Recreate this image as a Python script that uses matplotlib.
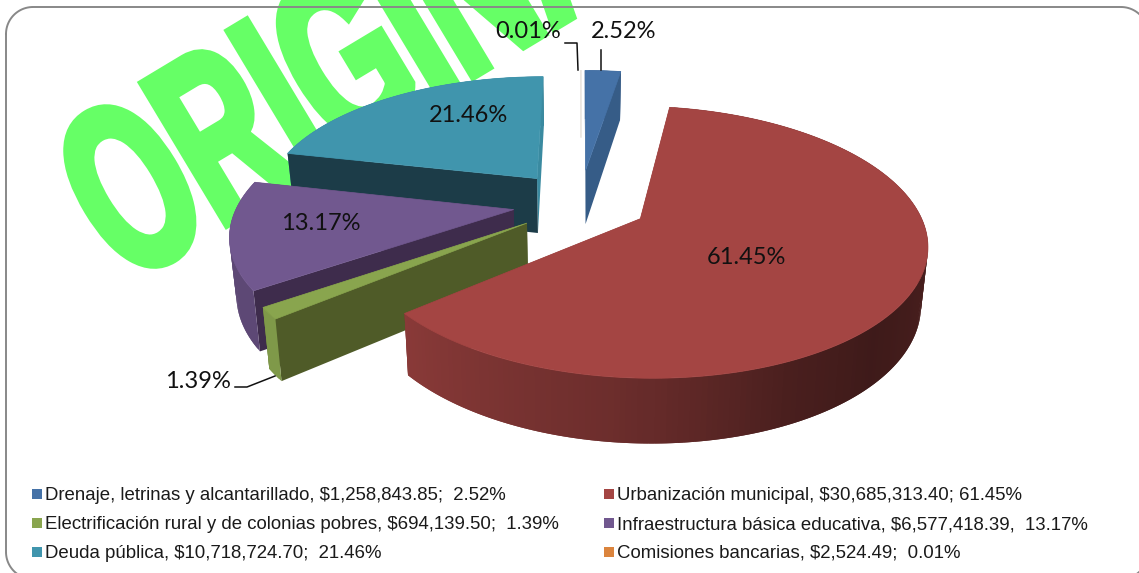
import numpy as np
import matplotlib
matplotlib.use("Agg")
import matplotlib.pyplot as plt
from matplotlib.patches import Polygon, Rectangle
from matplotlib.patheffects import AbstractPathEffect
from matplotlib.transforms import Affine2D

# ---- data ----
names = ["Drenaje, letrinas y alcantarillado", "Urbanización municipal",
         "Electrificación rural y de colonias pobres", "Infraestructura básica educativa",
         "Deuda pública", "Comisiones bancarias"]
amounts = [1258843.85, 30685313.40, 694139.50, 6577418.39, 10718724.70, 2524.49]
percent_labels = ["2.52%", "61.45%", "1.39%", "13.17%", "21.46%", "0.01%"]
legend_labels = ["Drenaje, letrinas y alcantarillado, $1,258,843.85;  2.52%",
                 "Urbanización municipal, $30,685,313.40; 61.45%",
                 "Electrificación rural y de colonias pobres, $694,139.50;  1.39%",
                 "Infraestructura básica educativa, $6,577,418.39,  13.17%",
                 "Deuda pública, $10,718,724.70;  21.46%",
                 "Comisiones bancarias, $2,524.49;  0.01%"]

# ---- style ----
explode_xy = [(0.0175, 0.303), (0.211, -0.09), (-0.191, -0.123),
              (-0.242, -0.02), (-0.165, 0.231), (0.0, 0.30)]
top_colors = ["#4572A7", "#A44543", "#89A54E", "#71588F", "#4095AD", "#DB843D"]
start_wall_colors = ["#365C87", "#7A3230", "#4F5B28", "#3E2C4C", "#1C3C48", "#A8652E"]
end_wall_colors = ["#365C87", "#7A3230", "#4F5B28", "#3E2C4C", "#3A8AA0", "#A8652E"]
outer_shades = [0.8, None, 0.93, 0.82, 0.85, 0.8]
CX, CY, A, B, K, D = 581.0, 207.0, 277.0, 128.0, 0.17, 56.0


def project(X, Y, z):
    f = 1.0 / (1.0 + K * Y)
    s = 1.0 - 0.02 * z
    return CX + A * X * f * s, CY - B * Y * f * s + D * f * z


def shade(hex_color, k):
    rgb = np.array(matplotlib.colors.to_rgb(hex_color)) * k
    return tuple(np.clip(rgb, 0, 1))


class Condense(AbstractPathEffect):
    """Squeeze and tilt the glyphs of a text around its anchor (display units)."""
    def __init__(self, anchor, sx, angle, grow, color):
        super().__init__()
        self.tr = (Affine2D().translate(-anchor[0], -anchor[1]).scale(sx, 1.0)
                   .rotate_deg(angle).translate(anchor[0], anchor[1]))
        self.grow, self.color = grow, color

    def draw_path(self, renderer, gc, tpath, affine, rgbFace=None):
        g = renderer.new_gc()
        g.copy_properties(gc)
        g.set_linewidth(self.grow)
        g.set_foreground(self.color)
        g.set_joinstyle("miter")
        renderer.draw_path(g, tpath, affine + self.tr, rgbFace)
        g.restore()


fig = plt.figure(figsize=(11.39, 5.73), dpi=100)
ax = fig.add_axes([0, 0, 1, 1])
ax.set_xlim(0, 1139)
ax.set_ylim(573, 0)
ax.axis("off")

# watermark
WM = (126, 285)
ax.text(WM[0], WM[1], "ORIGINAL", family="Liberation Sans", weight="bold", fontsize=172,
        color="#66FF66", ha="left", va="baseline", zorder=1,
        path_effects=[Condense((WM[0], 573 - WM[1]), 0.585, 31, 6, "#66FF66")])

# border (rounded frame that runs off the right and bottom edges)
L, T, R_, Bm, r = 6, 7, 1148, 579, 27
arc = np.linspace(0, np.pi / 2, 24)
bx = np.concatenate([L + r - r * np.cos(arc), R_ - r + r * np.sin(arc),
                     R_ - r + r * np.cos(arc), L + r - r * np.sin(arc), [L]])
by = np.concatenate([T + r - r * np.sin(arc), T + r - r * np.cos(arc),
                     Bm - r + r * np.sin(arc), Bm - r + r * np.cos(arc), [T + r]])
ax.plot(bx, by, color="#888888", lw=1.4, zorder=2)

# pie
shares = np.array(amounts) / np.sum(amounts)
edges = np.concatenate([[0], np.cumsum(shares)]) * 360.0


def red_shade(t):
    return np.interp(t, [60, 100, 135, 155, 185, 232], [0.45, 0.45, 0.38, 0.45, 0.66, 0.85])


z = 3
for i in [5, 0, 4, 3, 2, 1]:
    t0, t1 = edges[i], edges[i + 1]
    ox, oy = explode_xy[i]
    n = max(2, int((t1 - t0) / 1.0) + 2)
    th = np.radians(np.linspace(t0, t1, n))
    rx, ry = ox + np.sin(th), oy + np.cos(th)
    if i == 5:
        # the 0.01 % slice is only a pale hairline
        f = 0.303
        p0 = project(ox + f * np.sin(th[0]), oy + f * np.cos(th[0]), 0)
        p1 = project(rx[0], ry[0], 0)
        ax.plot([p0[0], p1[0]], [p0[1], p1[1]], color="#E6E0D8", lw=1.0, zorder=z)
        z += 1
        continue
    faces = []
    for j in range(n - 1):
        j2 = min(j + 2, n - 1)
        q = [project(rx[j], ry[j], 0), project(rx[j2], ry[j2], 0),
             project(rx[j2], ry[j2], 1), project(rx[j], ry[j], 1)]
        k = red_shade(np.degrees(th[j])) if outer_shades[i] is None else outer_shades[i]
        faces.append(((ry[j] + ry[j + 1]) / 2, q, shade(top_colors[i], k)))
    for e, wall in ((0, start_wall_colors[i]), (-1, end_wall_colors[i])):
        q = [project(ox, oy, 0), project(rx[e], ry[e], 0),
             project(rx[e], ry[e], 1), project(ox, oy, 1)]
        faces.append(((oy + ry[e]) / 2, q, wall))
    for _, q, c in sorted(faces, key=lambda a: -a[0]):
        ax.add_patch(Polygon(q, closed=True, fc=c, ec="none", zorder=z))
    top = [project(ox, oy, 0)] + [project(a, b, 0) for a, b in zip(rx, ry)]
    ax.add_patch(Polygon(top, closed=True, fc=top_colors[i], ec=top_colors[i], lw=0.5, zorder=z))
    z += 1

# data labels
label_pos = [(624, 31), (746, 257), (198, 381), (321, 223), (469, 116), (528, 31)]
for s, (x, y) in zip(percent_labels, label_pos):
    ax.text(x, y, s, family="Lato", fontsize=17, color="#111111", ha="center", va="center", zorder=20)

# leader lines
ax.plot([601, 601], [50, 70], color="#111111", lw=1.1, zorder=20)
ax.plot([565, 577, 578], [43, 43, 70], color="#111111", lw=1.1, zorder=20)
ax.plot([235, 247, 275], [387, 387, 376], color="#111111", lw=1.1, zorder=20)

# legend
cols = [(32, 45), (604, 617)]
rows = [494, 523, 552]
for i, s in enumerate(legend_labels):
    bx0, tx = cols[i % 2]
    y = rows[i // 2]
    ax.add_patch(Rectangle((bx0, y - 5), 9.5, 9.5, fc=top_colors[i], ec="none", zorder=20))
    ax.text(tx, y + 1.5, s, family="Liberation Sans", fontsize=13.45, color="#1A1A1A",
            ha="left", va="center", zorder=20)

fig.savefig("out.png", dpi=100)
